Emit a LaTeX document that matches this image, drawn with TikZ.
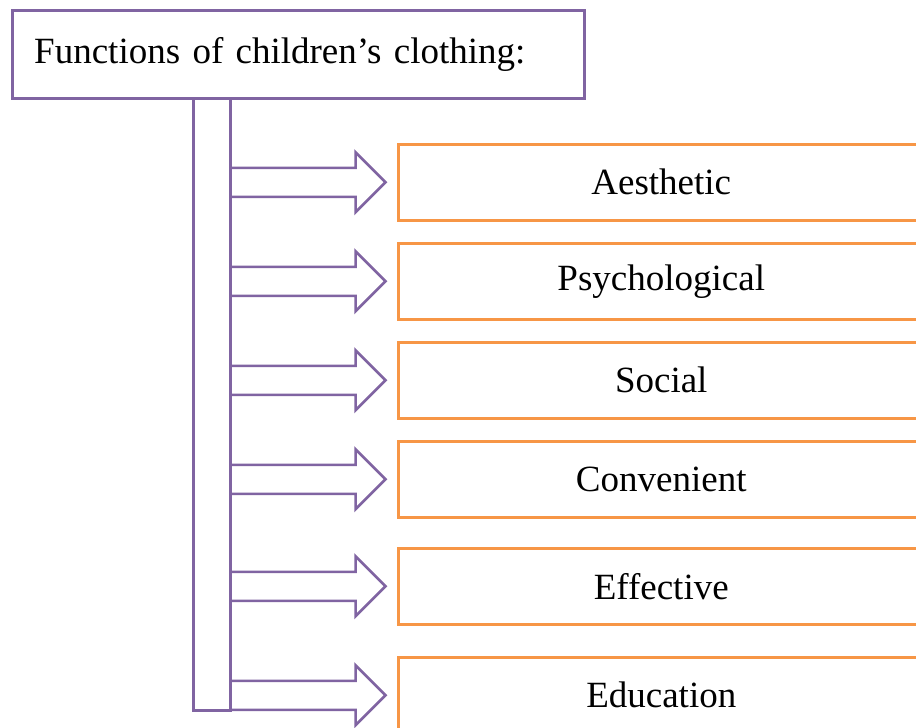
\documentclass[tikz,border=0pt]{standalone}
\usepackage{fontspec}
\setmainfont{Liberation Serif}
\definecolor{purp}{HTML}{8064A2}
\definecolor{orng}{HTML}{F79646}
\begin{document}
\begin{tikzpicture}[x=1pt,y=-1pt,
  pline/.style={draw=purp,line width=2.5pt},
  fbox/.style={draw=orng,line width=2.5pt,rectangle,anchor=north west,minimum width=526pt,minimum height=76pt,inner sep=0pt,font=\fontsize{37}{44}\selectfont},
  tbox/.style={draw=purp,line width=2.5pt,rectangle,anchor=north west,minimum height=88pt,text width=528pt,inner xsep=22pt,inner ysep=0pt,align=left,font=\fontsize{37}{44}\selectfont}]
\useasboundingbox (0,0) rectangle (916,728);
\clip (0,0) rectangle (916,728);
\fill[white] (0,0) rectangle (916,728);
\node[tbox] (title) at (11,9) {Functions of children’s clothing:};
\node[pline,rectangle,anchor=north west,minimum width=37pt,minimum height=612pt,inner sep=0pt] (bar) at (192,97) {};
\node[fbox] (b1) at (397,143) {Aesthetic};
\node[fbox] (b2) at (397,242) {Psychological};
\node[fbox] (b3) at (397,341) {Social};
\node[fbox] (b4) at (397,440) {Convenient};
\node[fbox] (b5) at (397,547) {Effective};
\node[fbox] (b6) at (397,656) {Education};
\foreach \b in {b1,b2,b3,b4,b5,b6}{
  \coordinate (s) at (bar.east |- \b.west);
  \draw[pline,line join=miter] ([yshift=14.5pt]s) -- ++(124,0) -- ++(0,-15.5) -- ++(30,30) -- ++(-30,30) -- ++(0,-15.5) -- ++(-124,0);
}
\end{tikzpicture}
\end{document}
